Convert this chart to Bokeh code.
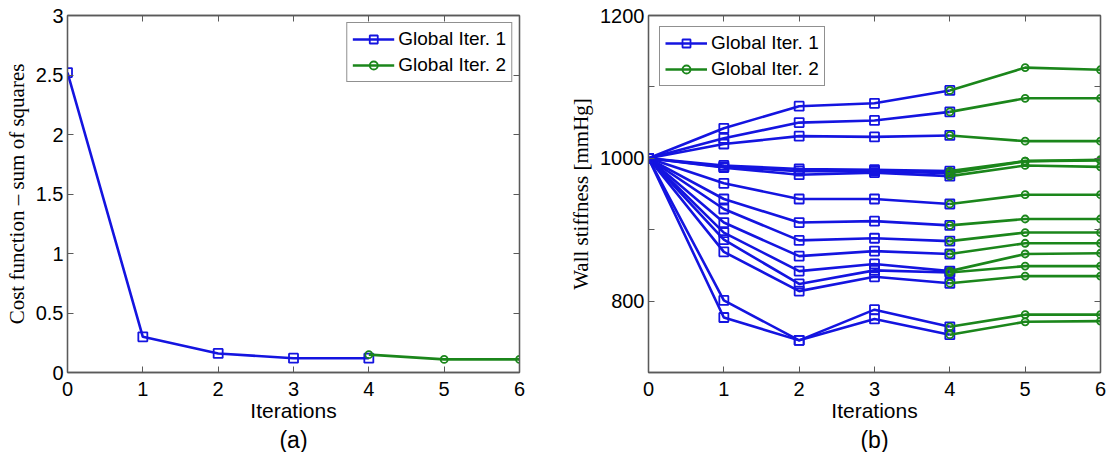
from bokeh.plotting import figure
from bokeh.layouts import row
from bokeh.models import (FixedTicker, LinearAxis, Legend, LegendItem, Title,
                          CustomJSTickFormatter, Range1d)
from bokeh.embed import file_html
from bokeh.resources import INLINE

# ---------------- data ----------------
iters_global1 = [0, 1, 2, 3, 4]
iters_global2 = [4, 5, 6]

cost_global1 = [2.52, 0.30, 0.16, 0.12, 0.12]
cost_global2 = [0.15, 0.11, 0.11]

stiff_global1 = [
    [1000, 1042, 1073, 1077, 1095],
    [1000, 1028, 1050, 1053, 1065],
    [1000, 1020, 1031, 1030, 1032],
    [1000, 990, 985, 984, 982],
    [1000, 988, 982, 982, 979],
    [1000, 987, 977, 980, 975],
    [1000, 965, 943, 943, 936],
    [1000, 943, 910, 912, 906],
    [1000, 929, 885, 888, 884],
    [1000, 910, 863, 870, 866],
    [1000, 896, 842, 852, 842],
    [1000, 886, 824, 843, 840],
    [1000, 869, 814, 834, 825],
    [1000, 801, 745, 788, 764],
    [1000, 777, 745, 775, 753],
]
stiff_global2 = [
    [1095, 1127, 1124],
    [1065, 1084, 1084],
    [1032, 1024, 1024],
    [982, 996, 998],
    [979, 996, 997],
    [975, 990, 988],
    [936, 949, 949],
    [906, 915, 915],
    [884, 896, 896],
    [866, 881, 881],
    [842, 866, 867],
    [840, 849, 849],
    [825, 835, 835],
    [764, 781, 781],
    [753, 771, 772],
]

x_ticks = [0, 1, 2, 3, 4, 5, 6]
cost_ticks = [0, 0.5, 1, 1.5, 2, 2.5, 3]
stiff_ticks = [700, 800, 900, 1000, 1100, 1200]
legend_labels = ["Global Iter. 1", "Global Iter. 2"]

BLUE = "#1414e0"
GREEN = "#1b861b"
FRAME = "#5a5a5a"
TEXT = "#000000"
SANS = "Liberation Sans"
SERIF = "Liberation Serif"

num_fmt = CustomJSTickFormatter(code="return String(tick);")
blank_fmt = CustomJSTickFormatter(code="return '';")
stiff_fmt = CustomJSTickFormatter(code="return (tick % 200 == 0) ? String(tick) : '';")


def style_axis(ax):
    ax.axis_line_color = FRAME
    ax.axis_line_width = 1.3
    ax.major_tick_in = 6
    ax.major_tick_out = 0
    ax.minor_tick_in = 0
    ax.minor_tick_out = 0
    ax.major_tick_line_color = FRAME
    ax.major_label_text_font = SANS
    ax.major_label_text_font_size = "20px"
    ax.major_label_text_color = TEXT


def make_fig(width, left, right, top, xr, yr, yticks, yfmt, ylabel, sub):
    p = figure(width=width, height=452, x_range=xr, y_range=yr,
               output_backend="svg", toolbar_location=None,
               min_border_left=left, min_border_right=right,
               min_border_top=top, min_border_bottom=4,
               background_fill_color="white", border_fill_color="white")
    p.xgrid.visible = False
    p.ygrid.visible = False
    p.outline_line_color = FRAME
    p.outline_line_width = 1.3

    xa = p.xaxis[0]
    xa.ticker = FixedTicker(ticks=x_ticks)
    xa.formatter = num_fmt
    style_axis(xa)
    xa.major_label_standoff = 9
    xa.axis_label = "Iterations"
    xa.axis_label_text_font = SANS
    xa.axis_label_text_font_style = "normal"
    xa.axis_label_text_font_size = "21px"
    xa.axis_label_text_color = TEXT
    xa.axis_label_standoff = 0

    ya = p.yaxis[0]
    ya.ticker = FixedTicker(ticks=yticks)
    ya.formatter = yfmt
    style_axis(ya)
    ya.major_label_standoff = 4
    ya.axis_label = ylabel
    ya.axis_label_text_font = SERIF
    ya.axis_label_text_font_style = "normal"
    ya.axis_label_text_font_size = "21px"
    ya.axis_label_text_color = TEXT
    ya.axis_label_standoff = 4

    ra = LinearAxis(ticker=FixedTicker(ticks=yticks), formatter=blank_fmt)
    style_axis(ra)
    ra.major_label_standoff = 0
    p.add_layout(ra, "right")
    ta = LinearAxis(ticker=FixedTicker(ticks=x_ticks), formatter=blank_fmt)
    style_axis(ta)
    ta.major_label_standoff = 0
    p.add_layout(ta, "above")

    t = Title(text=sub, align="center", text_font=SANS, text_font_size="23px",
              text_font_style="normal", text_color=TEXT, standoff=0, offset=0)
    p.add_layout(t, "below")
    return p


def add_series(p, xs, ys, color, marker, size):
    lr = p.line(xs, ys, line_color=color, line_width=2.6)
    sr = p.scatter(xs, ys, marker=marker, size=size, line_color=color,
                   line_width=1.8, fill_alpha=0)
    return [lr, sr]


# ---------------- (a) ----------------
pa = make_fig(560, 67, 41, 15, Range1d(0, 6), Range1d(0, 3), cost_ticks,
              num_fmt, "Cost function \u2013 sum of squares", "(a)")
ra1 = add_series(pa, iters_global1, cost_global1, BLUE, "square", 9)
ra2 = add_series(pa, iters_global2, cost_global2, GREEN, "circle", 7)
leg_a = Legend(items=[LegendItem(label=legend_labels[0], renderers=ra1),
                      LegendItem(label=legend_labels[1], renderers=ra2)],
               location="top_right")
pa.add_layout(leg_a)

# ---------------- (b) ----------------
pb = make_fig(547, 88, 7, 15, Range1d(0, 6), Range1d(700, 1200), stiff_ticks,
              stiff_fmt, "Wall stiffness [mmHg]", "(b)")
rb1 = None
rb2 = None
for ys in stiff_global1:
    r = add_series(pb, iters_global1, ys, BLUE, "square", 9)
    if rb1 is None:
        rb1 = r
for ys in stiff_global2:
    r = add_series(pb, iters_global2, ys, GREEN, "circle", 7)
    if rb2 is None:
        rb2 = r
leg_b = Legend(items=[LegendItem(label=legend_labels[0], renderers=rb1),
                      LegendItem(label=legend_labels[1], renderers=rb2)],
               location="top_left")
pb.add_layout(leg_b)

for lg, m in ((leg_a, 7), (leg_b, 11)):
    lg.margin = m
    lg.border_line_color = "#222222"
    lg.border_line_width = 1
    lg.background_fill_color = "white"
    lg.background_fill_alpha = 1
    lg.label_text_font = SANS
    lg.label_text_font_size = "19px"
    lg.label_text_color = TEXT
    lg.glyph_width = 42
    lg.glyph_height = 20
    lg.label_standoff = 4
    lg.spacing = 4
    lg.padding = 5

layout = row(pa, pb)
open("out.html", "w").write(file_html(layout, INLINE))
